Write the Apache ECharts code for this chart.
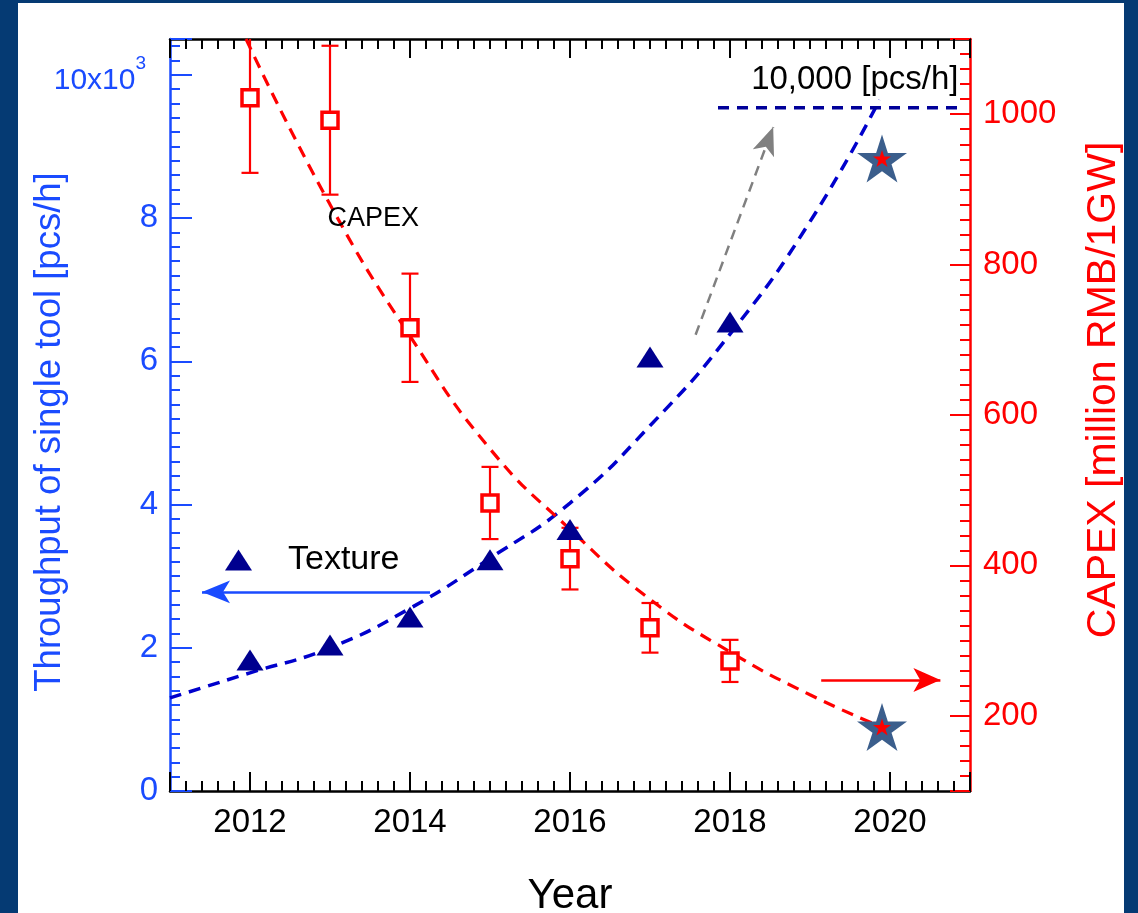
<!DOCTYPE html>
<html>
<head>
<meta charset="utf-8">
<script src="https://cdn.jsdelivr.net/npm/echarts@6/dist/echarts.min.js"></script>
<style>
  html, body { margin: 0; padding: 0; background: #053a73; width: 1138px; height: 913px; overflow: hidden; }
  #chart { position: absolute; left: 18px; top: 3px; width: 1106px; height: 910px; background: #ffffff; }
</style>
</head>
<body>
<div id="chart"></div>
<script>
// Measured points per year
const years = [2012, 2013, 2014, 2015, 2016, 2017, 2018];
const texture = [1.83, 2.04, 2.43, 3.23, 3.65, 6.06, 6.55];        // x10^3 pcs/h
const capex = [1022, 992, 716, 483, 409, 317, 273];                // million RMB / 1GW
const capexErr = [100, 99, 72, 48, 41, 33, 28];

// Trend lines
const throughputTrendYears = [2011, 2012, 2013, 2014, 2015, 2016, 2017, 2018, 2019, 2019.87];
const throughputTrend = [1.30, 1.65, 2.0, 2.55, 3.25, 4.02, 5.1, 6.38, 7.95, 9.65];
const capexTrendYears = [2011.95, 2013, 2014, 2015, 2016, 2017, 2018, 2019, 2019.9];
const capexTrend = [1100, 880, 705, 555, 448, 355, 285, 228, 185];

// 2020 targets
const targetYear = 2019.9;
const throughputTarget = 8.83;
const capexTarget = 185;
const targetLineYears = [2017.85, 2020.87];
const targetLineLevel = 9.54;

// Annotation arrows [x1, y1, x2, y2] on the throughput scale
const growthArrow = [2017.57, 6.37, 2018.54, 9.27];
const leftArrow = [2014.25, 2.78, 2011.4, 2.78];
const rightArrow = [2019.14, 1.55, 2020.63, 1.55];

// Text notes
const notes = [
  { name: 'CAPEX', at: [2013.54, 8.0] },
  { name: '10,000 [pcs/h]', at: [2019.56, 9.93] }
];

const FONT = '"Liberation Sans", Arial, Helvetica, sans-serif';
const BLUE_AXIS = '#1a4bff';
const RED = '#ff0000';
const NAVY = '#00008f';
const STAR = 'path://M0,-50 L11.17,-15.37 L47.55,-15.45 L18.07,5.87 L29.39,40.45 L0,19 L-29.39,40.45 L-18.07,5.87 L-47.55,-15.45 L-11.17,-15.37 Z';
const plain = v => String(v);

function xAxisDef(pos) {
  return {
    type: 'value', position: pos, min: 2011, max: 2021, splitNumber: 5,
    name: pos === 'bottom' ? 'Year' : '', nameLocation: 'middle', nameGap: 84, nameMoveOverlap: false,
    nameTextStyle: { fontFamily: FONT, fontSize: 42, color: '#000' },
    axisLine: { onZero: false, lineStyle: { color: '#000', width: 2.5 } },
    axisTick: { inside: true, length: 19, lineStyle: { color: '#000', width: 2 } },
    minorTick: { show: true, splitNumber: 10, length: 10, lineStyle: { color: '#000', width: 2 } },
    axisLabel: { show: pos === 'bottom', showMinLabel: false, showMaxLabel: false, margin: 15,
      fontFamily: FONT, fontSize: 33, color: '#000', formatter: plain },
    splitLine: { show: false }
  };
}

function scatterStyle(color, extra) {
  return Object.assign({ color: color, opacity: 1 }, extra || {});
}

const chart = echarts.init(document.getElementById('chart'), null, { renderer: 'canvas' });

const option = {
  animation: false,
  backgroundColor: '#ffffff',
  textStyle: { fontFamily: FONT },
  grid: { left: 152, right: 154, top: 36, bottom: 122, containLabel: false, outerBoundsMode: 'none' },
  legend: {
    left: 202, top: 535, itemWidth: 27, itemHeight: 21, selectedMode: false,
    data: [{ name: 'Texture', icon: 'triangle' }],
    textStyle: { fontFamily: FONT, fontSize: 34, color: '#000', padding: [0, 0, 0, 31] }
  },
  xAxis: [xAxisDef('bottom'), xAxisDef('top')],
  yAxis: [
    {
      type: 'value', position: 'left', min: 0, max: 10.5, interval: 2,
      name: 'Throughput of single tool [pcs/h]', nameLocation: 'middle', nameGap: 102, nameRotate: 90,
      nameMoveOverlap: false,
      nameTextStyle: { fontFamily: FONT, fontSize: 36.5, color: BLUE_AXIS, padding: [0, 34, 0, 0] },
      axisLine: { onZero: false, lineStyle: { color: BLUE_AXIS, width: 2.5 } },
      axisTick: { inside: true, length: 22, lineStyle: { color: BLUE_AXIS, width: 2 } },
      minorTick: { show: true, splitNumber: 10, length: 10, lineStyle: { color: BLUE_AXIS, width: 2 } },
      axisLabel: {
        showMaxLabel: false, margin: 12, fontFamily: FONT, fontSize: 33, color: BLUE_AXIS,
        formatter: v => v === 10 ? '{m|10x10}{s|3}{z| }' : String(v),
        rich: {
          m: { fontFamily: FONT, fontSize: 30, color: BLUE_AXIS, lineHeight: 30, verticalAlign: 'bottom' },
          s: { fontFamily: FONT, fontSize: 19, color: BLUE_AXIS, lineHeight: 20, verticalAlign: 'top' },
          z: { fontSize: 1, lineHeight: 42, width: 12 }
        }
      },
      splitLine: { show: false }
    },
    {
      type: 'value', position: 'right', min: 100, max: 1100, splitNumber: 5,
      name: 'CAPEX [million RMB/1GW]', nameLocation: 'middle', nameGap: 113, nameRotate: 90,
      nameMoveOverlap: false,
      nameTextStyle: { fontFamily: FONT, fontSize: 41, color: RED, padding: [0, 0, 0, 50] },
      axisLine: { onZero: false, lineStyle: { color: RED, width: 2.5 } },
      axisTick: { inside: true, length: 20, lineStyle: { color: RED, width: 2 } },
      minorTick: { show: true, splitNumber: 10, length: 10, lineStyle: { color: RED, width: 2 } },
      axisLabel: { showMinLabel: false, showMaxLabel: false, margin: 13, fontFamily: FONT, fontSize: 33, color: RED, formatter: plain },
      splitLine: { show: false }
    }
  ],
  series: [
    {
      name: 'throughput trend', type: 'line', xAxisIndex: 0, yAxisIndex: 0, smooth: true, showSymbol: false, silent: true,
      data: throughputTrendYears.map((y, i) => [y, throughputTrend[i]]),
      lineStyle: { color: '#0000cc', width: 3.5, type: [12, 8] }, z: 3
    },
    {
      name: 'target line', type: 'line', xAxisIndex: 0, yAxisIndex: 0, showSymbol: false, silent: true,
      data: targetLineYears.map(y => [y, targetLineLevel]),
      lineStyle: { color: '#000099', width: 3.5, type: [11, 8] }, z: 3
    },
    {
      name: 'capex trend', type: 'line', xAxisIndex: 0, yAxisIndex: 1, smooth: true, showSymbol: false, silent: true,
      data: capexTrendYears.map((y, i) => [y, capexTrend[i]]),
      lineStyle: { color: RED, width: 3.2, type: [12, 8] }, z: 3
    },
    {
      name: 'capex error', type: 'custom', xAxisIndex: 0, yAxisIndex: 1, silent: true, clip: true, z: 4,
      data: years.map((y, i) => [y, capex[i] - capexErr[i], capex[i] + capexErr[i]]),
      renderItem: (params, api) => {
        const lo = api.coord([api.value(0), api.value(1)]);
        const hi = api.coord([api.value(0), api.value(2)]);
        const w = 8.5;
        const st = { stroke: RED, lineWidth: 2.2, fill: null };
        return {
          type: 'group',
          children: [
            { type: 'line', shape: { x1: lo[0], y1: lo[1], x2: hi[0], y2: hi[1] }, style: st },
            { type: 'line', shape: { x1: lo[0] - w, y1: lo[1], x2: lo[0] + w, y2: lo[1] }, style: st },
            { type: 'line', shape: { x1: hi[0] - w, y1: hi[1], x2: hi[0] + w, y2: hi[1] }, style: st }
          ]
        };
      }
    },
    {
      name: 'CAPEX', type: 'scatter', xAxisIndex: 0, yAxisIndex: 1, silent: true, z: 5,
      symbol: 'rect', symbolSize: 16,
      itemStyle: scatterStyle('#ffffff', { borderColor: RED, borderWidth: 3.5 }),
      data: years.map((y, i) => [y, capex[i]])
    },
    {
      name: 'Texture', type: 'scatter', xAxisIndex: 0, yAxisIndex: 0, silent: true, z: 5,
      symbol: 'triangle', symbolSize: [27, 21],
      itemStyle: scatterStyle(NAVY),
      data: years.map((y, i) => [y, texture[i]])
    },
    {
      name: 'throughput target', type: 'scatter', xAxisIndex: 0, yAxisIndex: 0, silent: true, z: 6,
      symbol: STAR, symbolSize: [50, 48], itemStyle: scatterStyle('#3b5e8c'),
      data: [[targetYear, throughputTarget]]
    },
    {
      name: 'throughput target core', type: 'scatter', xAxisIndex: 0, yAxisIndex: 0, silent: true, z: 7,
      symbol: STAR, symbolSize: [18, 17], itemStyle: scatterStyle(RED),
      data: [[targetYear, throughputTarget]]
    },
    {
      name: 'capex target', type: 'scatter', xAxisIndex: 0, yAxisIndex: 1, silent: true, z: 6,
      symbol: STAR, symbolSize: [50, 48], itemStyle: scatterStyle('#3b5e8c'),
      data: [[targetYear, capexTarget]]
    },
    {
      name: 'capex target core', type: 'scatter', xAxisIndex: 0, yAxisIndex: 1, silent: true, z: 7,
      symbol: STAR, symbolSize: [18, 17], itemStyle: scatterStyle(RED),
      data: [[targetYear, capexTarget]]
    },
    {
      name: 'growth arrow', type: 'lines', coordinateSystem: 'cartesian2d', xAxisIndex: 0, yAxisIndex: 0, silent: true, z: 4,
      symbol: ['none', 'arrow'], symbolSize: [10, [17, 28]],
      lineStyle: { color: '#808080', width: 2.5, type: [10, 7], opacity: 1 },
      data: [{ coords: [[growthArrow[0], growthArrow[1]], [growthArrow[2], growthArrow[3]]] }]
    },
    {
      name: 'left arrow', type: 'lines', coordinateSystem: 'cartesian2d', xAxisIndex: 0, yAxisIndex: 0, silent: true, z: 4,
      symbol: ['none', 'arrow'], symbolSize: [10, [17, 28]],
      lineStyle: { color: '#1a4bff', width: 2.5, type: 'solid', opacity: 1 },
      data: [{ coords: [[leftArrow[0], leftArrow[1]], [leftArrow[2], leftArrow[3]]] }]
    },
    {
      name: 'right arrow', type: 'lines', coordinateSystem: 'cartesian2d', xAxisIndex: 0, yAxisIndex: 0, silent: true, z: 4,
      symbol: ['none', 'arrow'], symbolSize: [10, [18, 27]],
      lineStyle: { color: RED, width: 2.5, type: 'solid', opacity: 1 },
      data: [{ coords: [[rightArrow[0], rightArrow[1]], [rightArrow[2], rightArrow[3]]] }]
    },
    {
      name: 'notes', type: 'scatter', xAxisIndex: 0, yAxisIndex: 0, silent: true, z: 8,
      symbolSize: 0, itemStyle: { opacity: 1 },
      label: { show: true, position: 'inside', formatter: p => p.name, fontFamily: FONT, color: '#000' },
      data: notes.map((n, i) => ({
        name: n.name, value: n.at,
        label: { fontSize: i === 0 ? 27 : 33 }
      }))
    }
  ]
};

chart.setOption(option);
</script>
</body>
</html>
